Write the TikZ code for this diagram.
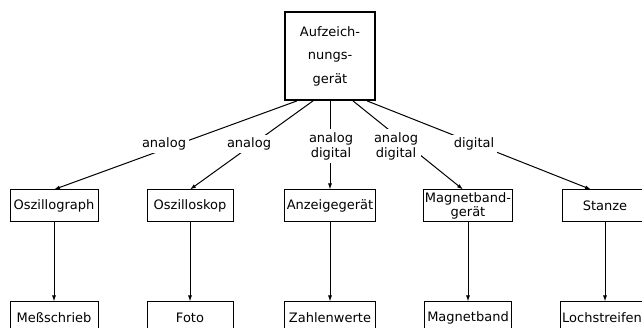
\documentclass[tikz,border=0pt]{standalone}
\usepackage{fontspec}
\setmainfont{DejaVu Sans}
\usetikzlibrary{arrows.meta}
\begin{document}
\begin{tikzpicture}[x=1pt,y=-1pt,
  box/.style={draw,line width=1pt,minimum height=32pt,minimum width=88pt,inner sep=1pt,
    align=center,font=\fontsize{13}{12.5}\selectfont},
  lbl/.style={fill=white,inner sep=3pt,align=center,font=\fontsize{13}{15}\selectfont},
  pfeil/.style={-{Latex[length=6pt,width=4pt]},line width=1pt}]
\useasboundingbox (0,0) rectangle (642,328);
\clip (0,0) rectangle (642,328);
\pgfmathsetmacro{\rowa}{206}
\pgfmathsetmacro{\rowb}{318}
% Kopf
\node[box,line width=1.8pt,minimum width=90pt,minimum height=88pt,
  font=\fontsize{13}{23.5}\selectfont] (geraet) at (330,56) {Aufzeich-\\nungs-\\gerät};
% Geraete
\node[box] (oszgraph) at (54,\rowa) {Oszillograph};
\node[box,minimum width=86pt] (oszskop) at (190,\rowa) {Oszilloskop};
\node[box,minimum width=91pt] (anzeige) at (330,\rowa) {Anzeigegerät};
\node[box,minimum width=87pt] (mbgeraet) at (468,\rowa) {Magnetband-\\gerät};
\node[box,minimum width=86pt] (stanze) at (605,\rowa) {Stanze};
% Ergebnisse
\node[box] (messschrieb) at (54,\rowb) {Meßschrieb};
\node[box,minimum width=86pt] (foto) at (190,\rowb) {Foto};
\node[box,minimum width=91pt] (zahlen) at (330,\rowb) {Zahlenwerte};
\node[box,minimum width=87pt] (mband) at (468,\rowb) {Magnetband};
\node[box,minimum width=84pt] (lochstr) at (602,\rowb) {Lochstreifen};
% Verbindungen
\draw[pfeil] ([xshift=-33pt]geraet.south) -- (oszgraph.north);
\draw[pfeil] ([xshift=-17pt]geraet.south) -- (oszskop.north);
\draw[pfeil] (geraet.south) -- (anzeige.north);
\draw[pfeil] ([xshift=23pt]geraet.south) -- ([xshift=-5pt]mbgeraet.north);
\draw[pfeil] ([xshift=37pt]geraet.south) -- ([xshift=-14pt]stanze.north);
\foreach \a/\b in {oszgraph/messschrieb,oszskop/foto,anzeige/zahlen,mbgeraet/mband}
  \draw[pfeil] (\a.south) -- (\b.north);
\draw[pfeil] (stanze.south) -- ([xshift=3pt]lochstr.north);
% Signalarten
\node[lbl] (l1) at (164,144) {analog};
\node[lbl] (l2) at (249,144) {analog};
\node[lbl] (l3) at (331,146) {analog\\digital};
\node[lbl] (l4) at (396,146) {analog\\digital};
\node[lbl] (l5) at (474,144) {digital};
\end{tikzpicture}
\end{document}
